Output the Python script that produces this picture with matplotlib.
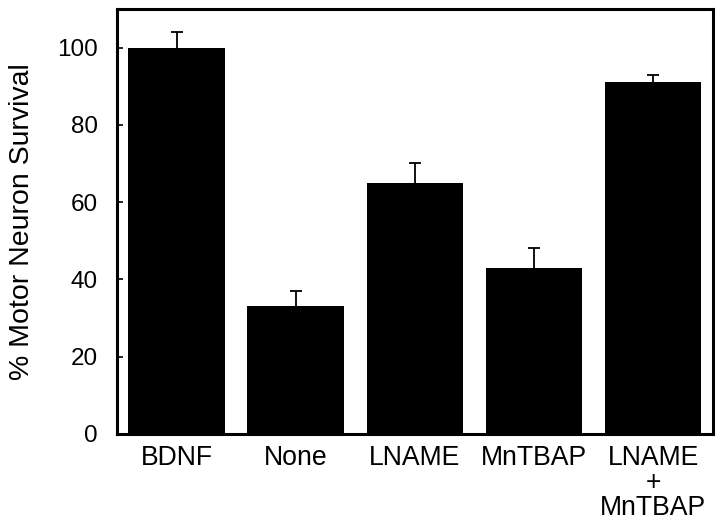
import matplotlib
matplotlib.use("Agg")
import matplotlib.pyplot as plt

categories = ["BDNF", "None", "LNAME", "MnTBAP", "LNAME\n+\nMnTBAP"]
survival = [100, 33, 65, 43, 91]
errors = [4, 4, 5, 5, 2]
yticks = [0, 20, 40, 60, 80, 100]

plt.rcParams['font.family'] = ['Liberation Sans', 'DejaVu Sans']

fig = plt.figure(figsize=(7.2, 5.24), dpi=100)
ax = fig.add_axes([0.1625, 0.1718, 0.8275, 0.8112])

x = list(range(len(categories)))
ax.bar(x, survival, width=0.81, color='black', zorder=2)
eb = ax.errorbar(x, survival, yerr=[[0]*len(errors), errors], fmt='none',
                 ecolor='black', elinewidth=1.3, capsize=4, capthick=1.3, zorder=1)
eb[1][0].set_visible(False)

ax.set_xlim(-0.5, 4.5)
ax.set_ylim(0, 110)
ax.set_yticks(yticks)
ax.set_yticklabels([str(v) for v in yticks], fontsize=17.5)
ax.set_xticks(x)
ax.set_xticklabels(categories, fontsize=19.2, linespacing=0.95)
ax.tick_params(axis='x', length=0, pad=8)
ax.tick_params(axis='y', direction='in', length=4, width=1.2, pad=14)
for s in ax.spines.values():
    s.set_linewidth(2.2)
ax.set_ylabel("% Motor Neuron Survival", fontsize=20.5, labelpad=16)

fig.savefig("out.png", dpi=100)
